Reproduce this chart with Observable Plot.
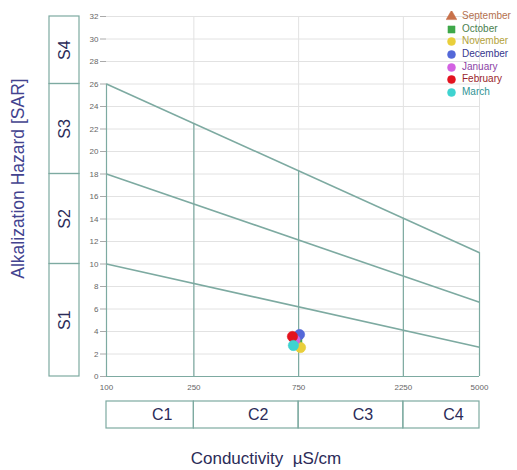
<!DOCTYPE html>
<html>
<head>
<meta charset="utf-8">
<script src="https://cdn.jsdelivr.net/npm/d3@7"></script>
<script src="https://cdn.jsdelivr.net/npm/@observablehq/plot@0.6"></script>
<style>
  body { margin: 0; background: white; font-family: "Liberation Sans", Arial, sans-serif; }
  #wrap { position: relative; width: 517px; height: 470px; }
  #legend { position: absolute; left: 446px; top: 10px; font-size: 10px; line-height: 12.7px; }
  #legend div { display: flex; align-items: center; white-space: nowrap; height: 12.7px; }
  #legend svg { margin-right: 5px; }
</style>
</head>
<body>
<div id="wrap">
  <div id="chart"></div>
  <div id="legend"></div>
</div>
<script>
// ---- data ----
const months = ["September", "October", "November", "December", "January", "February", "March"];
const ecValues = [730, 740, 765, 757, 722, 703, 710];      // µS/cm
const sarValues = [3.1, 3.0, 2.58, 3.73, 3.25, 3.56, 2.76]; // SAR
const monthSymbols = ["triangle", "square", "circle", "circle", "circle", "circle", "circle"];
const monthFills = ["#c8714a", "#3fa84a", "#e9cf3b", "#5468d8", "#d362e2", "#e3131f", "#3fd3d0"];
const monthTextColors = ["#b4714f", "#4b7f4f", "#b3a23a", "#35378e", "#8c3fa6", "#9a1f2d", "#2f9494"];

const xTicks = [100, 250, 750, 2250, 5000];
const yTicks = [0, 2, 4, 6, 8, 10, 12, 14, 16, 18, 20, 22, 24, 26, 28, 30, 32];

const ecBreaks = [100, 250, 750, 2250, 5000];
const cLabels = ["C1", "C2", "C3", "C4"];
const sarBreaks = [0, 10, 18, 26, 32];
const sLabels = ["S1", "S2", "S3", "S4"];
// hazard boundary lines: SAR at 100 µS/cm and at 5000 µS/cm
const boundaryStart = [10, 18, 26];
const boundaryEnd = [2.6, 6.6, 11];

// ---- derived tables ----
const points = months.map((m, i) => ({month: m, ec: ecValues[i], sar: sarValues[i]}));
const cBands = cLabels.map((c, i) => ({label: c, x1: ecBreaks[i], x2: ecBreaks[i + 1], xm: Math.sqrt(ecBreaks[i] * ecBreaks[i + 1])}));
const sBands = sLabels.map((s, i) => ({label: s, y1: sarBreaks[i], y2: sarBreaks[i + 1], ym: (sarBreaks[i] + sarBreaks[i + 1]) / 2}));
const boundaries = boundaryStart.map((s, i) => ({x1: ecBreaks[0], y1: s, x2: ecBreaks[ecBreaks.length - 1], y2: boundaryEnd[i]}));
// top boundary (S3/S4) evaluated at each class break for the vertical separators
const topLine = boundaries[boundaries.length - 1];
const topAt = x => topLine.y1 + (topLine.y2 - topLine.y1) * Math.log(x / topLine.x1) / Math.log(topLine.x2 / topLine.x1);
const verticals = ecBreaks.map(x => ({x, top: topAt(x)}));

const teal = "#7daaa1";
const navy = "#2b2b58";

const chart = Plot.plot({
  width: 517,
  height: 470,
  marginLeft: 106,
  marginRight: 38,
  marginTop: 16,
  marginBottom: 94,
  x: {type: "log", domain: [100, 5000], axis: null},
  y: {domain: [0, 32]},
  symbol: {domain: months, range: monthSymbols},
  color: {domain: months, range: monthFills},
  style: {fontFamily: "'Liberation Sans', Arial, sans-serif", background: "white", overflow: "visible"},
  marks: [
    Plot.gridY(yTicks, {stroke: "#e2e2e2", strokeOpacity: 1}),
    Plot.gridX([250, 750, 2250, 5000], {stroke: "#e2e2e2", strokeOpacity: 1}),
    Plot.axisY(yTicks, {tickSize: 6, tickPadding: 2, fontSize: 8, color: "#666", stroke: "#aaa", label: null}),
    Plot.text(xTicks, {x: d => d, text: d => String(d), frameAnchor: "bottom", lineAnchor: "middle", dy: 11, fontSize: 8, fill: "#666"}),
    Plot.ruleX(verticals, {x: "x", y1: 0, y2: "top", stroke: teal, strokeWidth: 1.2}),
    Plot.ruleY([0], {x1: 100, x2: 5000, stroke: teal, strokeWidth: 1.2}),
    Plot.link(boundaries, {x1: "x1", y1: "y1", x2: "x2", y2: "y2", stroke: teal, strokeWidth: 1.6}),
    // S class boxes (left)
    Plot.rect(sBands, {y1: "y1", y2: "y2", insetLeft: -57, insetRight: 400, fill: "none", stroke: teal, strokeWidth: 1.2}),
    Plot.text(sBands, {y: "ym", text: "label", frameAnchor: "left", textAnchor: "middle", lineAnchor: "middle", dx: -42, rotate: -90, fontSize: 16, fill: navy}),
    // C class boxes (bottom)
    Plot.rect(cBands, {x1: "x1", x2: "x2", insetTop: 385, insetBottom: -52, fill: "none", stroke: teal, strokeWidth: 1.2}),
    Plot.text(cBands, {x: "xm", text: "label", frameAnchor: "bottom", lineAnchor: "middle", dy: 38, dx: 12, fontSize: 16, fill: navy}),
    // axis titles
    Plot.text(["Conductivity\u00a0 µS/cm"], {text: d => d, frameAnchor: "bottom", lineAnchor: "middle", dy: 82, dx: -27, fontSize: 17, fill: navy}),
    Plot.text(["Alkalization Hazard [SAR]"], {text: d => d, frameAnchor: "left", textAnchor: "middle", lineAnchor: "middle", dx: -88, dy: -18, rotate: -90, fontSize: 17.5, fill: "#43438f"}),
    // samples
    Plot.dot(points, {x: "ec", y: "sar", symbol: "month", fill: "month", r: 5.2, stroke: "month", strokeWidth: 0.5})
  ]
});
document.getElementById("chart").append(chart);

// legend
const legend = document.getElementById("legend");
months.forEach((m, i) => {
  const row = document.createElement("div");
  const sym = d3.symbol().type(
    monthSymbols[i] === "triangle" ? d3.symbolTriangle : monthSymbols[i] === "square" ? d3.symbolSquare : d3.symbolCircle
  ).size(50)();
  row.innerHTML = `<svg width="11" height="11" viewBox="-5.5 -5.5 11 11"><path d="${sym}" fill="${monthFills[i]}" stroke="${monthFills[i]}" stroke-width="0.5"></path></svg><span style="color:${monthTextColors[i]}">${m}</span>`;
  legend.append(row);
});
</script>
</body>
</html>
